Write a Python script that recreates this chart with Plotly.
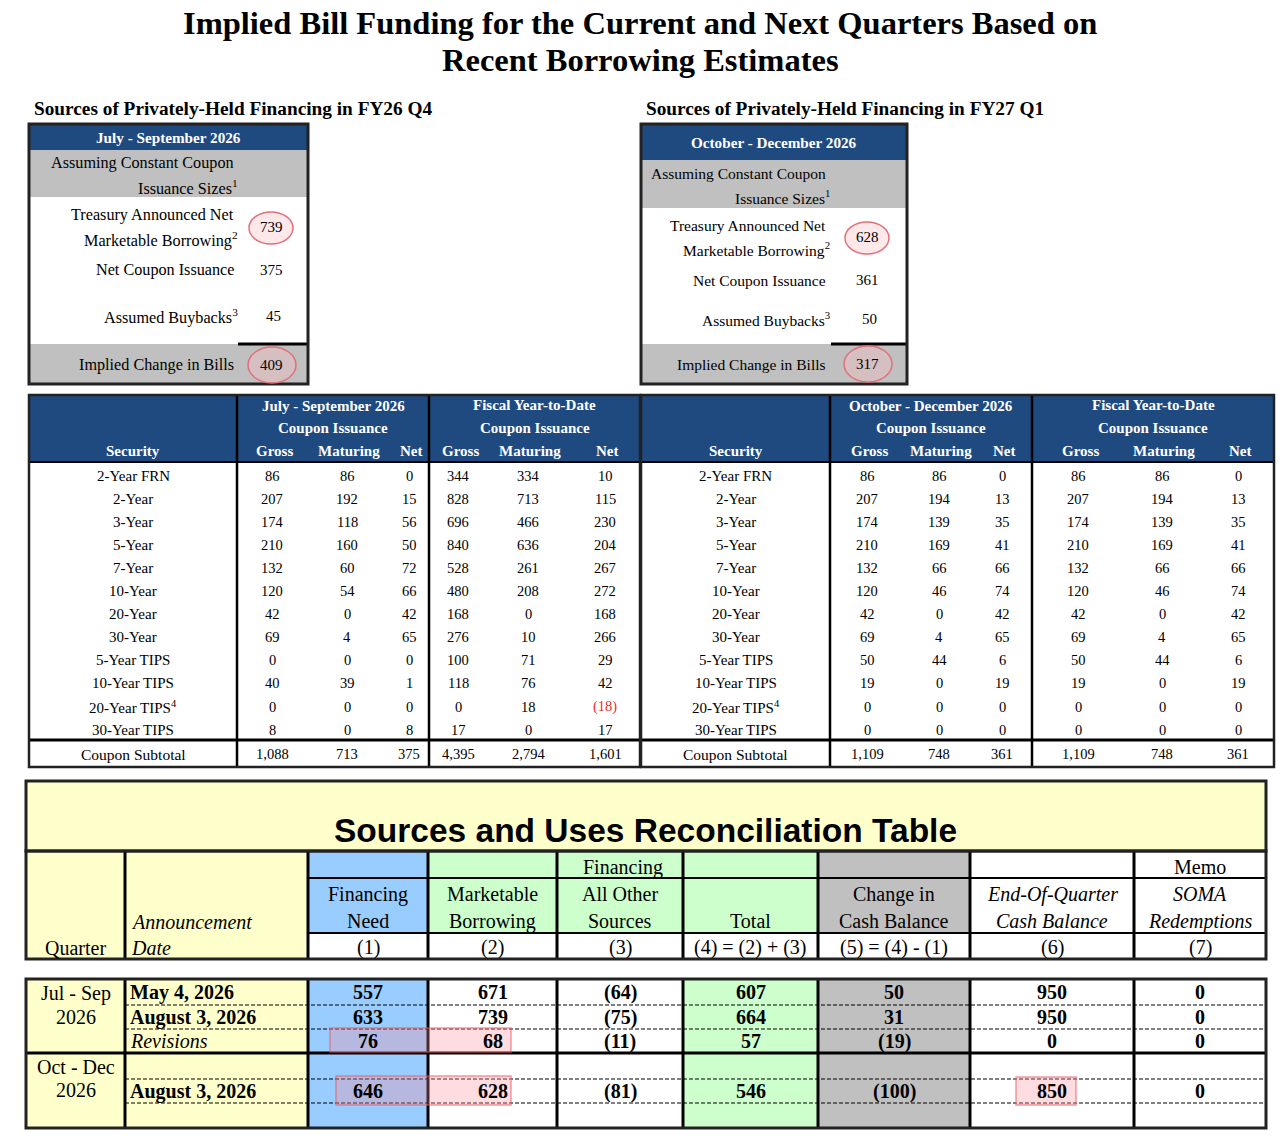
import plotly.graph_objects as go

# ---- data -------------------------------------------------------------
TITLE = ["Implied Bill Funding for the Current and Next Quarters Based on",
         "Recent Borrowing Estimates"]

small_headings = ["Sources of Privately-Held Financing in FY26 Q4",
                  "Sources of Privately-Held Financing in FY27 Q1"]
small_periods = ["July - September 2026", "October - December 2026"]
announced_borrowing = [739, 628]
net_coupon_issuance = [375, 361]
assumed_buybacks = [45, 50]
implied_change_bills = [409, 317]

securities = ["2-Year FRN", "2-Year", "3-Year", "5-Year", "7-Year", "10-Year",
              "20-Year", "30-Year", "5-Year TIPS", "10-Year TIPS",
              "20-Year TIPS<sup>4</sup>", "30-Year TIPS"]
# FY26 Q4 (Jul - Sep 2026)
q4_gross = [86, 207, 174, 210, 132, 120, 42, 69, 0, 40, 0, 8]
q4_maturing = [86, 192, 118, 160, 60, 54, 0, 4, 0, 39, 0, 0]
q4_net = [0, 15, 56, 50, 72, 66, 42, 65, 0, 1, 0, 8]
fy26_gross = [344, 828, 696, 840, 528, 480, 168, 276, 100, 118, 0, 17]
fy26_maturing = [334, 713, 466, 636, 261, 208, 0, 10, 71, 76, 18, 0]
fy26_net = [10, 115, 230, 204, 267, 272, 168, 266, 29, 42, -18, 17]
q4_subtotals = [1088, 713, 375, 4395, 2794, 1601]
# FY27 Q1 (Oct - Dec 2026)
q1_gross = [86, 207, 174, 210, 132, 120, 42, 69, 50, 19, 0, 0]
q1_maturing = [86, 194, 139, 169, 66, 46, 0, 4, 44, 0, 0, 0]
q1_net = [0, 13, 35, 41, 66, 74, 42, 65, 6, 19, 0, 0]
fy27_gross = [86, 207, 174, 210, 132, 120, 42, 69, 50, 19, 0, 0]
fy27_maturing = [86, 194, 139, 169, 66, 46, 0, 4, 44, 0, 0, 0]
fy27_net = [0, 13, 35, 41, 66, 74, 42, 65, 6, 19, 0, 0]
q1_subtotals = [1109, 748, 361, 1109, 748, 361]

rec_quarters = [["Jul - Sep", "2026"], ["Oct - Dec", "2026"]]
rec_dates = ["May 4, 2026", "August 3, 2026", "Revisions", "", "August 3, 2026", ""]
rec_need = [557, 633, 76, None, 646, None]
rec_marketable = [671, 739, 68, None, 628, None]
rec_other = [-64, -75, -11, None, -81, None]
rec_total = [607, 664, 57, None, 546, None]
rec_cash_change = [50, 31, -19, None, -100, None]
rec_eoq_cash = [950, 950, 0, None, 850, None]
rec_soma = [0, 0, 0, None, 0, None]

# ---- helpers -----------------------------------------------------------
SERIF = "Liberation Serif"
SANS = "Liberation Sans"
NAVY = "#1f4a80"
GRAY = "#c0c0c0"
YELLOW = "#ffffcc"
BLUE = "#99ccff"
GREEN = "#ccffcc"
CASHGRAY = "#c0c0c0"

shapes, notes = [], []


def fmt(v):
    if v is None:
        return ""
    return f"({abs(v):,})" if v < 0 else f"{v:,}"


def box(x0, y0, x1, y1, fill=None, line=None, lw=0, dash=None):
    shapes.append(dict(type="rect", xref="x", yref="y", x0=x0, y0=y0, x1=x1, y1=y1,
                       fillcolor=fill or "rgba(0,0,0,0)",
                       line=dict(color=line or "rgba(0,0,0,0)", width=lw if line else 0,
                                 dash=dash)))


def seg(x0, y0, x1, y1, color="black", lw=1, dash=None):
    shapes.append(dict(type="line", xref="x", yref="y", x0=x0, y0=y0, x1=x1, y1=y1,
                       line=dict(color=color, width=lw, dash=dash)))


def oval(cx, cy, rx, ry):
    shapes.append(dict(type="circle", xref="x", yref="y", x0=cx - rx, x1=cx + rx,
                       y0=cy - ry, y1=cy + ry, fillcolor="rgba(255,190,195,0.35)",
                       line=dict(color="#e0707a", width=1.5)))


def mark(x0, y0, x1, y1):
    shapes.append(dict(type="rect", xref="x", yref="y", x0=x0, x1=x1, y0=y0, y1=y1,
                       fillcolor="rgba(255,140,150,0.3)",
                       line=dict(color="rgba(230,90,100,0.6)", width=1.5)))


def txt(x, y, s, size=14, color="black", weight="normal", style="normal",
        anchor="center", family=SERIF):
    if s == "":
        return
    notes.append(dict(x=x, y=y, xref="x", yref="y", text=s, showarrow=False,
                      xanchor=anchor, yanchor="middle",
                      font=dict(family=family, size=size, color=color,
                                weight=weight, style=style)))


# ---- title ------------------------------------------------------------
txt(640, 23, TITLE[0], size=32.5, weight="bold")
txt(640, 60, TITLE[1], size=32.5, weight="bold")

# ---- small "sources" tables ------------------------------------------
small_geo = [
    dict(x0=29, x1=308, top=124, navy=150, gray=197, lab=236, num=271, fs=16.2,
         ys=[137, 163, 187, 215, 239, 270, 316, 365], head_x=32, line_x=238),
    dict(x0=641, x1=907, top=124, navy=160, gray=208, lab=828, num=867, fs=15.5,
         ys=[142, 173, 197, 225, 249, 280, 319, 364], head_x=644, line_x=831),
]
for i, g in enumerate(small_geo):
    bot, grey2, LS = 384, 344, g["fs"]
    txt(g["head_x"], 108, small_headings[i], size=19.3, weight="bold", anchor="left")
    box(g["x0"], g["top"], g["x1"], g["navy"], fill=NAVY)
    box(g["x0"], g["navy"], g["x1"], g["gray"], fill=GRAY)
    box(g["x0"], grey2, g["x1"], bot, fill=GRAY)
    seg(g["line_x"], grey2, g["x1"], grey2, lw=3)
    box(g["x0"], g["top"], g["x1"], bot, line="#222222", lw=3)
    ys = g["ys"]
    txt((g["x0"] + g["x1"]) / 2, ys[0], small_periods[i], size=15.2, color="white",
        weight="bold")
    txt(g["lab"], ys[1], "Assuming Constant Coupon", size=LS, anchor="right")
    txt(g["lab"] + 4, ys[2], "Issuance Sizes<sup>1</sup>", size=LS, anchor="right")
    txt(g["lab"], ys[3], "Treasury Announced Net", size=LS, anchor="right")
    txt(g["lab"] + 4, ys[4], "Marketable Borrowing<sup>2</sup>", size=LS, anchor="right")
    txt(g["lab"], ys[5], "Net Coupon Issuance", size=LS, anchor="right")
    txt(g["lab"] + 4, ys[6], "Assumed Buybacks<sup>3</sup>", size=LS, anchor="right")
    txt(g["lab"], ys[7], "Implied Change in Bills", size=LS, anchor="right")
    my = (ys[3] + ys[4]) / 2
    oval(g["num"], my + 1, 22, 16)
    oval(g["num"] + 1, ys[7], 24, 18)
    txt(g["num"], my, fmt(announced_borrowing[i]), size=15)
    txt(g["num"], ys[5], fmt(net_coupon_issuance[i]), size=15)
    txt(g["num"] + 2, ys[6], fmt(assumed_buybacks[i]), size=15)
    txt(g["num"], ys[7], fmt(implied_change_bills[i]), size=15)

# ---- coupon issuance tables -------------------------------------------
coupon_geo = [
    dict(x0=29, d1=237, d2=429, x1=640, cols=[272, 347, 409, 458, 528, 605],
         period=small_periods[0], subs=q4_subtotals,
         data=[q4_gross, q4_maturing, q4_net, fy26_gross, fy26_maturing, fy26_net]),
    dict(x0=641, d1=830, d2=1032, x1=1274, cols=[867, 939, 1002, 1078, 1162, 1238],
         period=small_periods[1], subs=q1_subtotals,
         data=[q1_gross, q1_maturing, q1_net, fy27_gross, fy27_maturing, fy27_net]),
]
for g in coupon_geo:
    top, hbot, sub, bot = 395, 462, 740, 767
    box(g["x0"], top, g["x1"], hbot, fill=NAVY)
    seg(g["x0"], hbot, g["x1"], hbot, lw=2)
    seg(g["x0"], sub, g["x1"], sub, lw=3)
    for d in (g["d1"], g["d2"]):
        seg(d, top, d, bot, lw=2.5)
    box(g["x0"], top, g["x1"], bot, line="#222222", lw=2.5)
    sec_x = (g["x0"] + g["d1"]) / 2
    txt((g["d1"] + g["d2"]) / 2, 406, g["period"], size=15, color="white", weight="bold")
    txt((g["d2"] + g["x1"]) / 2, 405, "Fiscal Year-to-Date", size=15, color="white",
        weight="bold")
    for cx in ((g["d1"] + g["d2"]) / 2, (g["d2"] + g["x1"]) / 2):
        txt(cx, 428, "Coupon Issuance", size=15, color="white", weight="bold")
    txt(sec_x, 451, "Security", size=15, color="white", weight="bold")
    for cx, lab in zip(g["cols"], ["Gross", "Maturing", "Net"] * 2):
        txt(cx + 2, 451, lab, size=15, color="white", weight="bold")
    for r, sec in enumerate(securities):
        y = 475.5 + r * 23.1
        txt(sec_x, y, sec, size=15)
        for cx, col in zip(g["cols"], g["data"]):
            v = col[r]
            txt(cx, y, fmt(v), size=14.5, color="#e8302a" if v < 0 else "black")
    txt(sec_x, 754, "Coupon Subtotal", size=15.5)
    for cx, v in zip(g["cols"], g["subs"]):
        txt(cx, 754, fmt(v), size=14.5)

# ---- sources and uses reconciliation table ----------------------------
edges = [26, 125, 308, 428, 557, 683, 818, 970, 1134, 1266]
head_fill = [YELLOW, YELLOW, BLUE, GREEN, GREEN, GREEN, CASHGRAY, "white", "white"]
data_fill = [YELLOW, YELLOW, BLUE, "white", "white", GREEN, CASHGRAY, "white", "white"]
ht, hmid, hsub, hb = 851, 878, 933, 959
dt, db = 979, 1128
row_lines = [1005, 1029, 1053, 1079, 1103]
row_y = [992, 1017, 1041, 1066, 1091, 1115]

box(edges[0], 781, edges[-1], ht, fill=YELLOW)
txt(645, 830, "Sources and Uses Reconciliation Table", size=33.5, weight="bold",
    family=SANS)
for c in range(9):
    box(edges[c], ht, edges[c + 1], hb, fill=head_fill[c])
    box(edges[c], dt, edges[c + 1], db, fill=data_fill[c])
    if c >= 2:
        box(edges[c], hsub, edges[c + 1], hb, fill="white")
box(edges[0], 781, edges[-1], ht, line="#222222", lw=3)

# header lines
seg(edges[2], hmid, edges[-1], hmid, lw=2)
seg(edges[2], hsub, edges[-1], hsub, lw=2)
for x in (557, 683):
    seg(x, hmid, x, hb, lw=1.5)
for x in edges[1:-1]:
    seg(x, ht, x, hb, lw=3)
box(edges[0], ht, edges[-1], hb, line="#222222", lw=3)

# data lines
for y in row_lines:
    if y == 1053:
        seg(edges[0], y, edges[-1], y, lw=3)
    else:
        seg(edges[1], y, edges[-1], y, lw=1, dash="4px,2px")
for x in (557, 683):
    seg(x, dt, x, db, lw=1.5)
for x in edges[1:-1]:
    seg(x, dt, x, db, lw=3)
box(edges[0], dt, edges[-1], db, line="#222222", lw=3)

mid = [(edges[i] + edges[i + 1]) / 2 for i in range(9)]
FS = 20
txt(mid[0], 948, "Quarter", size=FS)
txt(edges[1] + 4, 922, "Announcement", size=FS, style="italic", anchor="left")
txt(edges[1] + 4, 948, "Date", size=FS, style="italic", anchor="left")
txt((edges[3] + edges[6]) / 2, 867, "Financing", size=FS)
txt(mid[8], 867, "Memo", size=FS)
head_two = [("Financing", "Need"), ("Marketable", "Borrowing"), ("All Other", "Sources"),
            ("", "Total"), ("Change in", "Cash Balance"),
            ("<i>End-Of-Quarter</i>", "<i>Cash Balance</i>"),
            ("<i>SOMA</i>", "<i>Redemptions</i>")]
forms = ["(1)", "(2)", "(3)", "(4) = (2) + (3)", "(5) = (4) - (1)", "(6)", "(7)"]
for k, (a, b) in enumerate(head_two):
    cx = mid[k + 2]
    txt(cx, 894, a, size=FS)
    txt(cx, 921, b, size=FS)
    txt(cx, 947, forms[k], size=FS)

# highlight boxes
mark(330, 1028, 511, 1052)
mark(336, 1076, 511, 1105)
mark(1016, 1077, 1076, 1105)

txt(mid[0], 993, rec_quarters[0][0], size=FS)
txt(mid[0], 1017, rec_quarters[0][1], size=FS)
txt(mid[0], 1067, rec_quarters[1][0], size=FS)
txt(mid[0], 1090, rec_quarters[1][1], size=FS)
series = [rec_need, rec_marketable, rec_other, rec_total, rec_cash_change,
          rec_eoq_cash, rec_soma]
for r, y in enumerate(row_y):
    d = rec_dates[r]
    if d == "Revisions":
        txt(edges[1] + 3, y, d, size=FS, style="italic", anchor="left")
    else:
        txt(edges[1] + 3, y, d, size=FS, weight="bold", anchor="left")
    for k, s in enumerate(series):
        txt(mid[k + 2], y, fmt(s[r]), size=FS, weight="bold")

fig = go.Figure()
fig.update_layout(
    width=1280, height=1136,
    margin=dict(l=0, r=0, t=0, b=0),
    paper_bgcolor="white", plot_bgcolor="white",
    xaxis=dict(range=[0, 1280], visible=False, fixedrange=True),
    yaxis=dict(range=[1136, 0], visible=False, fixedrange=True),
    shapes=shapes, annotations=notes, showlegend=False,
)
# drop the browser's default 8px body margin so the figure sits at (0, 0)
fig.write_html("out.html", config={"displayModeBar": False},
               post_script="document.body.style.margin='0';"
                           "document.body.style.overflow='hidden';")
